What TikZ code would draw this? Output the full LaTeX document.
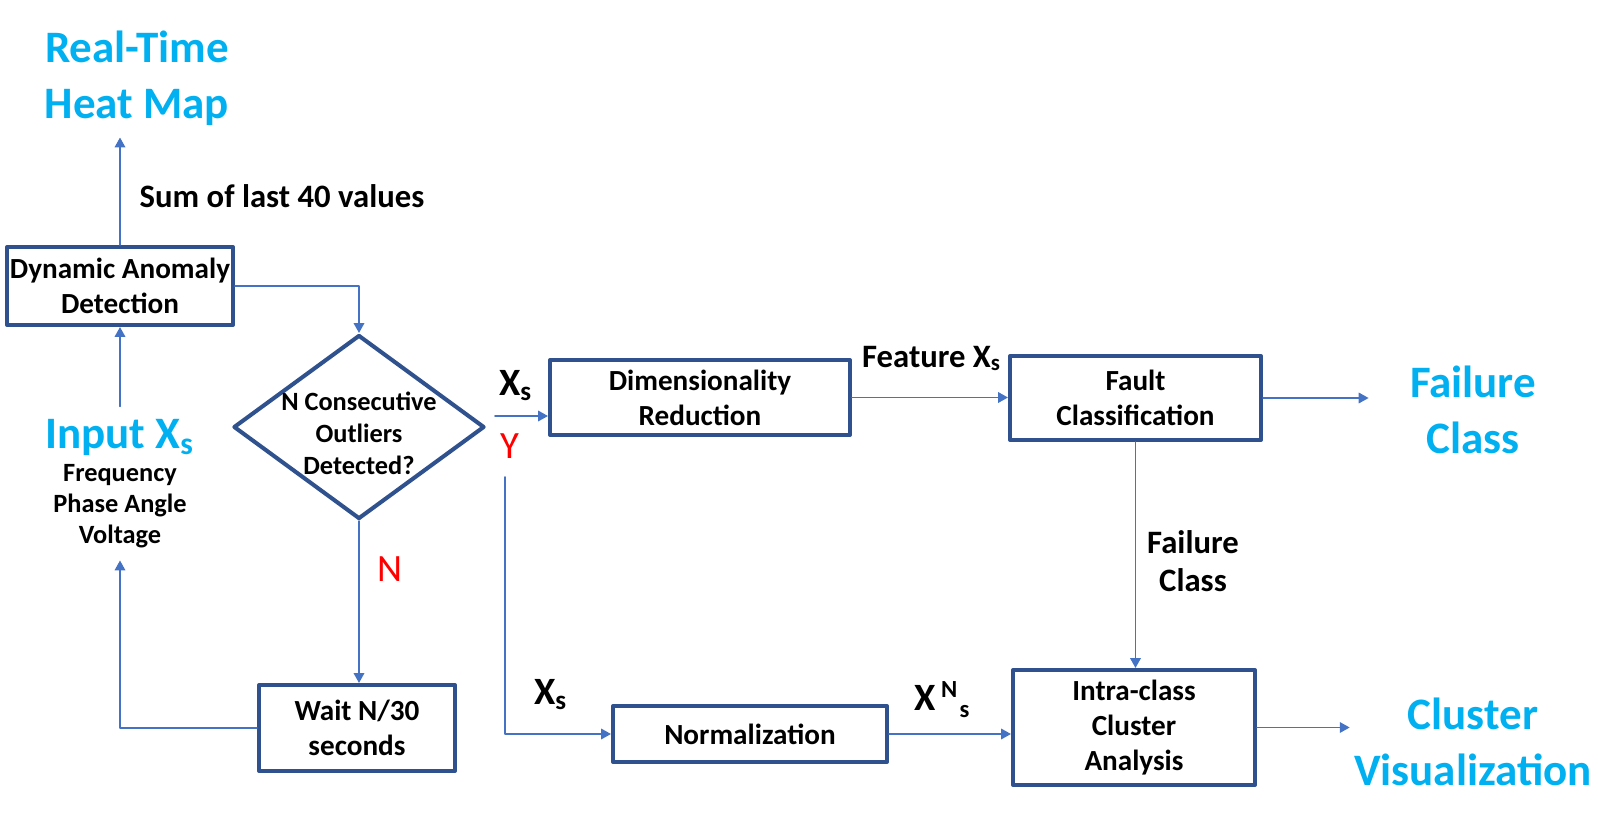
\documentclass[tikz,border=0pt]{standalone}
\usepackage{fontspec}
\setmainfont{Carlito}
\usepackage{xcolor}
\usepackage{tikz}
\usetikzlibrary{arrows.meta,positioning,shapes.geometric}

\definecolor{boxblue}{RGB}{47,82,143}
\definecolor{lineblue}{RGB}{68,114,196}
\definecolor{skyblue}{RGB}{0,176,240}
\newcommand{\boxfont}{\fontsize{8.3}{10}\selectfont\bfseries}
\newcommand{\decfont}{\fontsize{7.5}{9.1}\selectfont\bfseries}
\newcommand{\sigfont}{\fontsize{7.5}{8.9}\selectfont\bfseries}
\newcommand{\bigfont}{\fontsize{12.8}{15.8}\selectfont\bfseries}
\newcommand{\lblfont}{\fontsize{9.3}{10.9}\selectfont\bfseries}
\newcommand{\varfont}{\fontsize{11}{13}\selectfont\bfseries}
\newcommand{\smallidx}[1]{{\fontsize{7}{8}\selectfont #1}}

\begin{document}
\begin{tikzpicture}[>={Triangle[length=2.8pt,width=3pt]}, line cap=round, line join=round,
		procbox/.style={draw=boxblue, line width=1.15pt, inner sep=0pt, align=center, font=\boxfont},
		flow/.style={->, draw=lineblue, line width=0.45pt},
		outtext/.style={text=skyblue, align=center, font=\bigfont},
		edgetext/.style={align=center, font=\lblfont},
		vartext/.style={font=\varfont},
		answer/.style={text=red, font=\fontsize{11}{13}\selectfont}]
		\useasboundingbox (0,0) rectangle (15.98,8.16);
		
		% input side
		\node[outtext] (heatmap) at (1.37,7.38) {Real-Time\\Heat Map};
		\node[edgetext, anchor=base] (sumlabel) at (2.82,6.08) {Sum of last 40 values};
		\node[procbox, minimum width=2.26cm, minimum height=0.78cm] (dad) at (1.20,5.30) {Dynamic Anomaly\\Detection};
		\node[outtext, anchor=base] (inp) at (1.20,3.68) {Input X\textsubscript{s}};
		\node[align=center, font=\sigfont] (signals) at (1.20,3.10) {Frequency\\Phase Angle\\Voltage};
		
		% decision
		\node[draw=boxblue, line width=1.15pt, shape=diamond, inner sep=0pt, minimum width=2.51cm, minimum height=1.84cm] (dec) at (3.59,3.89) {};
		\node[align=center, font=\decfont] (dectext) at (3.59,3.83) {N Consecutive\\Outliers\\Detected?};
		\node[answer, anchor=base] (ylabel) at (5.10,3.58) {Y};
		\node[answer, anchor=base] (nlabel) at (3.90,2.35) {N};
		\node[procbox, minimum width=1.96cm, minimum height=0.86cm] (wait) at (3.57,0.88) {Wait N/30\\seconds};
		
		% processing
		\node[vartext, anchor=base] (xsone) at (5.16,4.21) {X\textsubscript{s}};
		\node[vartext, anchor=base] (xstwo) at (5.51,1.12) {X\textsubscript{s}};
		\node[procbox, minimum width=3.00cm, minimum height=0.75cm] (dimred) at (7.00,4.185) {Dimensionality\\Reduction};
		\node[procbox, minimum width=2.74cm, minimum height=0.56cm] (norm) at (7.50,0.82) {Normalization};
		\node[edgetext, anchor=base] (featlabel) at (9.32,4.49) {Feature X\textsubscript{s}};
		\node[vartext, anchor=base] (xns) at (9.42,1.06) {X\kern1.5pt\raisebox{3.6pt}{\smallidx{N}}\kern0.6pt\raisebox{-2pt}{\smallidx{s}}};
		\node[procbox, minimum width=2.51cm, minimum height=0.84cm] (fault) at (11.355,4.18) {Fault\\Classification};
		\node[edgetext] (classlabel) at (11.93,2.55) {Failure\\Class};
		\node[procbox, minimum width=2.42cm, minimum height=1.15cm] (intra) at (11.34,0.885) {Intra-class\\Cluster\\Analysis};
		
		% outputs
		\node[outtext] (failclass) at (14.73,4.06) {Failure\\Class};
		\node[outtext] (clusterviz) at (14.73,0.74) {Cluster\\Visualization};
		
		\coordinate (ytip) at (4.95,4.00);
		\coordinate (ybranch) at (5.05,3.39);
		
		\draw[flow] (dad.north) -- (dad.north |- heatmap.south);
		\draw[flow] (inp.north) -- (dad.south);
		\draw[flow] (dad.east) -| (dec.north);
		\draw[flow] (ytip) -- (ytip -| dimred.west);
		\draw[flow] (ybranch) |- (norm.west);
		\draw[flow] (dec.south) -- (dec.south |- wait.north);
		\draw[flow] (wait.west) -| (signals.south);
		\draw[flow] (dimred.east) -- (dimred.east -| fault.west);
		\draw[flow, shorten >=0.29cm] (fault.east) -- (fault.east -| failclass.west);
		\draw[flow] (fault.south) -- (fault.south |- intra.north);
		\draw[flow] (norm.east) -- (norm.east -| intra.west);
		\draw[flow, shorten >=-0.08cm] (intra.east) -- (intra.east -| clusterviz.west);
	\end{tikzpicture}
\end{document}
